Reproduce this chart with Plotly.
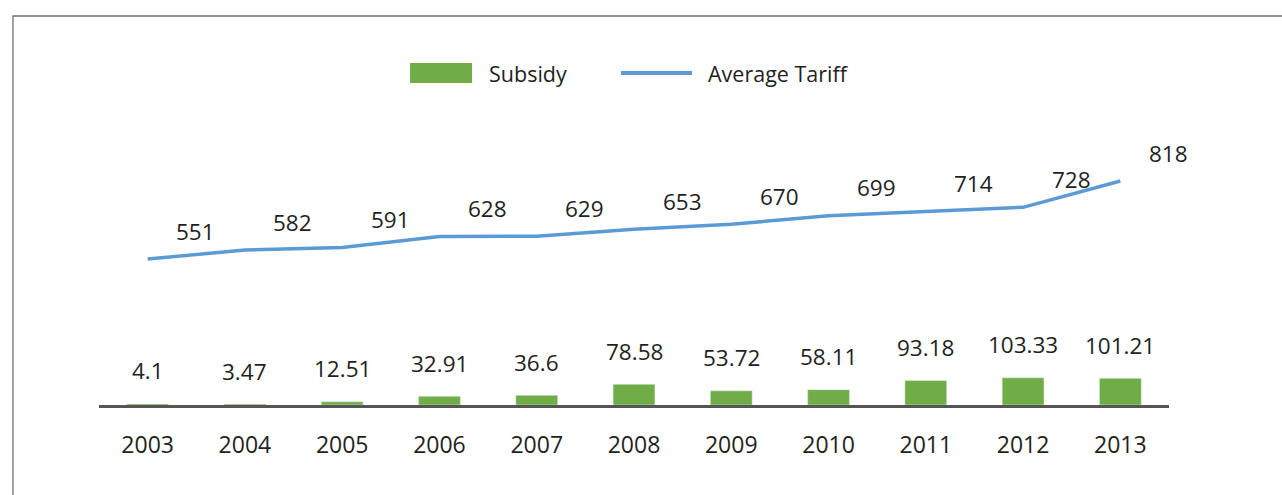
import plotly.graph_objects as go

years = ["2003", "2004", "2005", "2006", "2007", "2008", "2009", "2010", "2011", "2012", "2013"]
subsidy = [4.1, 3.47, 12.51, 32.91, 36.6, 78.58, 53.72, 58.11, 93.18, 103.33, 101.21]
tariff = [551, 582, 591, 628, 629, 653, 670, 699, 714, 728, 818]
subsidy_labels = ["4.1", "3.47", "12.51", "32.91", "36.6", "78.58", "53.72", "58.11", "93.18", "103.33", "101.21"]
tariff_labels = [str(v) for v in tariff]

GREEN = "#70AD47"
BLUE = "#5B9BD5"
TXT = "#231F20"
FONT = "Open Sans"

fig = go.Figure()
fig.add_trace(go.Bar(x=years, y=subsidy, name="Subsidy", marker_color=GREEN,
                     width=0.43, yaxis="y", showlegend=False))
fig.add_trace(go.Scatter(x=years, y=tariff, name="Average Tariff", mode="lines",
                         line=dict(color=BLUE, width=3.5), yaxis="y2", showlegend=False))

annotations = []
for i, (v, t) in enumerate(zip(subsidy, subsidy_labels)):
    annotations.append(dict(x=i, y=v, xref="x", yref="y", text=t, showarrow=False,
                            yanchor="middle", yshift=33,
                            font=dict(size=22.5, color=TXT, family=FONT)))
for i, (v, t) in enumerate(zip(tariff, tariff_labels)):
    annotations.append(dict(x=i, y=v, xref="x", yref="y2", text=t, showarrow=False,
                            yanchor="middle", xshift=48, yshift=28,
                            font=dict(size=22.5, color=TXT, family=FONT)))

# custom legend
annotations.append(dict(x=0.3626, y=1.0885, xref="paper", yref="paper", text="Subsidy",
                        showarrow=False, xanchor="left", yanchor="middle",
                        font=dict(size=21.5, color=TXT, family=FONT)))
annotations.append(dict(x=0.5673, y=1.0885, xref="paper", yref="paper", text="Average Tariff",
                        showarrow=False, xanchor="left", yanchor="middle",
                        font=dict(size=21.5, color=TXT, family=FONT)))

shapes = [
    dict(type="rect", xref="paper", yref="paper", x0=0.2907, x1=0.3486, y0=1.0557, y1=1.1213,
         fillcolor=GREEN, line=dict(width=0)),
    dict(type="line", xref="paper", yref="paper", x0=0.4879, x1=0.5542, y0=1.0885, y1=1.0885,
         line=dict(color=BLUE, width=4)),
    dict(type="rect", xref="paper", yref="paper", x0=-0.0804, x1=1.3, y0=-0.6, y1=1.2754,
         line=dict(color="#6e6e6e", width=1.3), fillcolor="rgba(0,0,0,0)", layer="below"),
]

fig.update_layout(
    width=1282, height=495,
    margin=dict(l=99, r=113, t=100, b=90),
    paper_bgcolor="white", plot_bgcolor="white",
    font=dict(family=FONT, color=TXT, size=22),
    showlegend=False,
    xaxis=dict(type="category", range=[-0.5, 10.5], showgrid=False, zeroline=False,
               showline=True, linecolor="#555555", linewidth=3, ticks="",
               ticklabelstandoff=17, tickfont=dict(size=23, color=TXT, family=FONT)),
    yaxis=dict(range=[0, 1159], visible=False, showgrid=False, zeroline=False),
    yaxis2=dict(range=[52, 1095], overlaying="y", visible=False, showgrid=False, zeroline=False),
    annotations=annotations,
    shapes=shapes,
    bargap=0.57,
)

fig.write_html("out.html", config={"displayModeBar": False},
               post_script="document.body.style.margin='0px';")
